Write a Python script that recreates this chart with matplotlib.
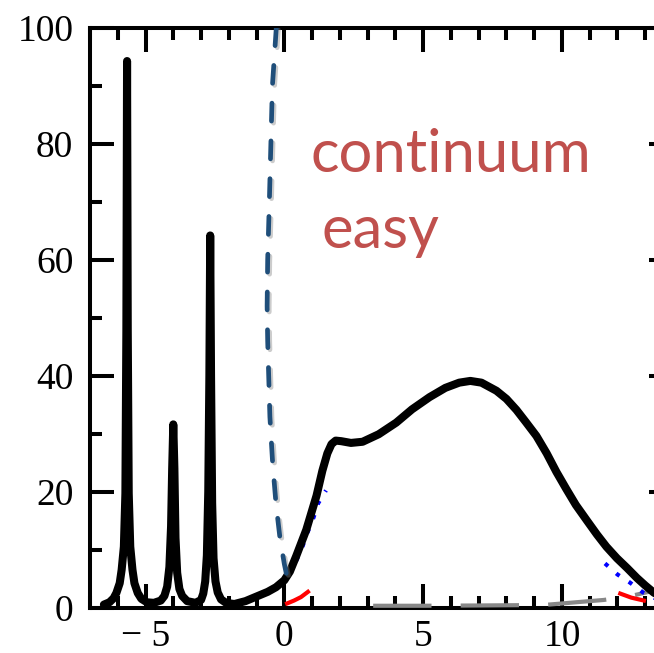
# -*- coding: utf-8 -*-
'''spectrum with continuum and resonance peaks'''
import matplotlib.pyplot as plt
import matplotlib.patheffects as pe
from matplotlib.ticker import MultipleLocator, FixedLocator, FixedFormatter

# black curve: resonances + continuum
x_black = [-6.5, -6.3, -6.15, -6.05, -5.93, -5.86, -5.78, -5.725, -5.69, -5.665,
           -5.64, -5.605, -5.55, -5.47, -5.40, -5.28, -5.15, -4.95, -4.7, -4.45,
           -4.32, -4.22, -4.14, -4.08, -4.04, -4.0, -3.96, -3.92, -3.86, -3.78,
           -3.68, -3.5, -3.2, -3.0, -2.92, -2.85, -2.79, -2.74, -2.7, -2.67,
           -2.64, -2.6, -2.55, -2.48, -2.4, -2.28, -2.1, -1.8, -1.4, -1.0,
           -0.6, -0.3, 0.0, 0.2, 0.43, 0.79, 1.16, 1.37, 1.55, 1.7,
           1.85, 2.05, 2.4, 2.82, 3.4, 4.03, 4.6, 5.23, 5.8, 6.3,
           6.7, 7.1, 7.64, 8.0, 8.36, 8.7, 9.08, 9.45, 9.8, 10.15,
           10.5, 10.9, 11.26, 11.6, 11.98, 12.35, 12.7, 13.0, 13.3, 13.6, 14.0]
y_black = [0.5, 0.9, 1.6, 2.5, 4.2, 6.5, 10.5, 19.7, 47.8, 94.3,
           47.8, 19.7, 10.5, 6.5, 4.2, 2.5, 1.5, 0.9, 0.8, 1.2,
           2.0, 3.6, 7.0, 14.0, 24.0, 31.6, 24.0, 12.0, 6.0, 3.2,
           2.0, 1.1, 0.8, 1.3, 2.4, 4.5, 9.0, 20.0, 40.0, 64.2,
           40.0, 18.0, 8.5, 4.5, 2.6, 1.4, 0.8, 0.6, 1.1, 1.9,
           2.7, 3.5, 4.7, 6.2, 8.9, 13.4, 19.3, 23.6, 26.6, 28.2,
           28.8, 28.7, 28.4, 28.6, 29.9, 31.9, 34.2, 36.3, 37.9, 38.8,
           39.1, 38.8, 37.4, 36.0, 34.1, 32.0, 29.6, 26.6, 23.4, 20.5,
           17.7, 15.0, 12.6, 10.5, 8.5, 6.8, 5.1, 3.8, 2.6, 1.7, 1.0]

# blue dashed curve
x_blue = [0.07, 0.0, -0.16, -0.3, -0.42, -0.52, -0.6, -0.62, -0.6, -0.54, -0.43, -0.29, -0.25]
y_blue = [5.9, 7.5, 12.1, 17.9, 24.8, 32.9, 46.0, 52.0, 60.0, 70.0, 90.0, 100.0, 103.0]

# blue dotted curve (visible pieces)
x_dot1 = [0.43, 0.63, 0.83, 1.05, 1.22, 1.5]
y_dot1 = [8.1, 10.2, 12.9, 15.5, 18.0, 20.2]
x_dot2 = [11.55, 12.0, 12.45, 12.92, 13.4]
y_dot2 = [7.6, 5.7, 4.3, 2.6, 1.5]

# red curve (visible pieces)
x_red1 = [0.1, 0.35, 0.6, 0.85]
y_red1 = [0.7, 1.2, 1.8, 2.7]
x_red2 = [12.1, 12.5, 12.95]
y_red2 = [2.4, 1.7, 1.2]

# grey dashed curve
x_grey = [3.2, 5.0, 7.0, 8.5, 9.4, 10.5, 11.5, 12.4, 13.3, 14.0]
y_grey = [0.3, 0.3, 0.35, 0.4, 0.45, 0.9, 1.3, 1.9, 2.9, 3.6]

fig = plt.figure(figsize=(6.54, 6.53), dpi=100)
ax = fig.add_axes([90/654, 45.5/653, 583/654, 579.5/653])

ax.plot(x_grey, y_grey, color='#888888', lw=3, dashes=(14, 7), zorder=3)
ax.plot(x_red1, y_red1, color='red', lw=3, zorder=3)
ax.plot(x_red2, y_red2, color='red', lw=3, zorder=3)
ax.plot(x_dot1, y_dot1, color='blue', lw=3, linestyle=(0, (1, 2.6)), zorder=3)
ax.plot(x_dot2, y_dot2, color='blue', lw=3, linestyle=(0, (1, 2.6)), zorder=3)
ax.plot(x_black, y_black, color='black', lw=5.8, solid_capstyle='round',
        solid_joinstyle='round', zorder=4)
ax.plot(x_blue, y_blue, color='#1f4e7a', lw=3.4, dashes=(3.8, 4.2),
        dash_capstyle='round', zorder=5,
        path_effects=[pe.SimpleLineShadow(offset=(1.5, -1.5), shadow_color='gray', alpha=0.4),
                      pe.Normal()])

ax.text(0.94, 75.1, 'continuum', color='#C0504D', fontsize=43, family='Lato',
        ha='left', va='baseline')
ax.text(1.34, 62.0, 'easy', color='#C0504D', fontsize=43, family='Lato',
        ha='left', va='baseline')

ax.set_xlim(-7, 14)
ax.set_ylim(0, 100)

for s in ax.spines.values():
    s.set_linewidth(2.9)

ax.xaxis.set_major_locator(FixedLocator([-5, 0, 5, 10]))
ax.xaxis.set_major_formatter(FixedFormatter(['\u2212 5', '0', '5', '10']))
ax.xaxis.set_minor_locator(MultipleLocator(1))
ax.yaxis.set_major_locator(MultipleLocator(20))
ax.yaxis.set_minor_locator(MultipleLocator(10))

ax.tick_params(which='both', direction='in', top=True, right=True, width=2.9)
ax.tick_params(which='major', length=17)
ax.tick_params(axis='y', which='major', pad=12)
ax.tick_params(axis='x', which='major', pad=9)
ax.tick_params(which='minor', length=8.5)
for label in ax.get_xticklabels() + ax.get_yticklabels():
    label.set_fontname('Liberation Serif')
    label.set_fontsize(27)

plt.savefig('out.png', dpi=100)
